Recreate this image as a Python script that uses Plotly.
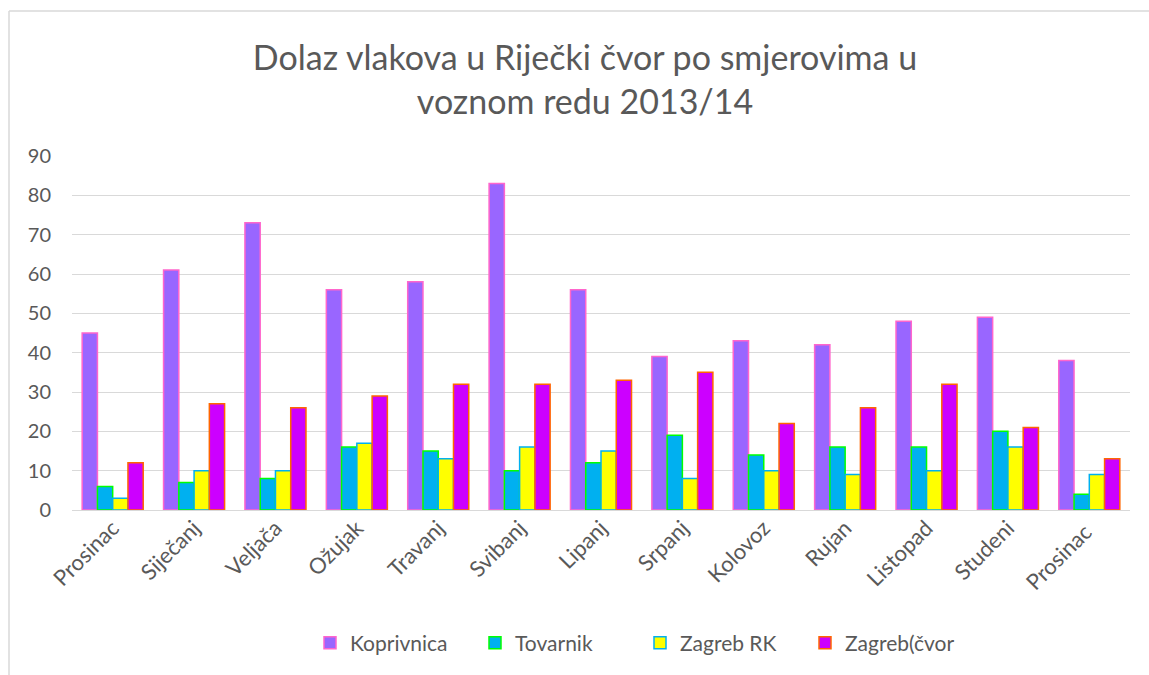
import plotly.graph_objects as go

months = ["Prosinac", "Siječanj", "Veljača", "Ožujak", "Travanj", "Svibanj", "Lipanj",
          "Srpanj", "Kolovoz", "Rujan", "Listopad", "Studeni", "Prosinac "]
koprivnica = [45, 61, 73, 56, 58, 83, 56, 39, 43, 42, 48, 49, 38]
tovarnik = [6, 7, 8, 16, 15, 10, 12, 19, 14, 16, 16, 20, 4]
zagreb_rk = [3, 10, 10, 17, 13, 16, 15, 8, 10, 9, 10, 16, 9]
zagreb_cvor = [12, 27, 26, 29, 32, 32, 33, 35, 22, 26, 32, 21, 13]

series = [
    ("Koprivnica", koprivnica, "#9966FF", "#FF66CC"),
    ("Tovarnik", tovarnik, "#00B0F0", "#00FF00"),
    ("Zagreb RK", zagreb_rk, "#FFFF00", "#00B0F0"),
    ("Zagreb(čvor", zagreb_cvor, "#CC00FF", "#FF6600"),
]

fig = go.Figure()
for name, vals, fill, line in series:
    fig.add_trace(go.Bar(x=months, y=vals, name=name,
                         marker=dict(color=fill, line=dict(color=line, width=1.5))))

W, H = 1149, 675
L, R, T, B = 72, 19, 156, 165
PW, PH = W - L - R, H - T - B

font_family = "Lato"
fig.update_layout(
    width=W, height=H,
    paper_bgcolor="white", plot_bgcolor="white",
    margin=dict(l=L, r=R, t=T, b=B),
    barmode="group", bargap=0.25, bargroupgap=0,
    title=dict(text="Dolaz vlakova u Riječki čvor po smjerovima u<br>voznom redu 2013/14",
               x=585 / W, xanchor="center", y=1 - 70 / H, yanchor="middle",
               font=dict(family=font_family, size=34, color="#595959")),
    font=dict(family=font_family, size=20, color="#595959"),
    legend=dict(orientation="h", x=(310 - L) / PW, xanchor="left",
                y=-(643 - (H - B)) / PH, yanchor="middle",
                font=dict(family=font_family, size=21, color="#595959"),
                itemwidth=30, traceorder="normal",
                entrywidth=120, entrywidthmode="pixels"),
    showlegend=True,
)
fig.update_yaxes(range=[0, 90], dtick=10, showgrid=True, gridcolor="#d9d9d9", gridwidth=1,
                 zeroline=True, zerolinecolor="#d9d9d9", zerolinewidth=1, showline=False,
                 ticks="", tickfont=dict(size=20, color="#595959"), ticklabelstandoff=20)
fig.update_xaxes(tickangle=-45, showgrid=False, showline=False, ticks="",
                 tickfont=dict(size=22, color="#595959"))

# outer chart border: only the left and top edges fall inside the picture
bx = (9 - L) / PW
by = (H - B - 11) / PH
fig.add_shape(type="line", xref="paper", yref="paper", x0=bx, x1=bx, y0=-B / PH - 0.01, y1=by,
              line=dict(color="#d9d9d9", width=1.5), layer="below")
fig.add_shape(type="line", xref="paper", yref="paper", x0=bx, x1=(W - L) / PW + 0.01, y0=by, y1=by,
              line=dict(color="#d9d9d9", width=1.5), layer="below")

fig.write_html("out.html", config={"displayModeBar": False},
               post_script="document.body.style.margin='0';document.body.style.overflow='hidden';")
